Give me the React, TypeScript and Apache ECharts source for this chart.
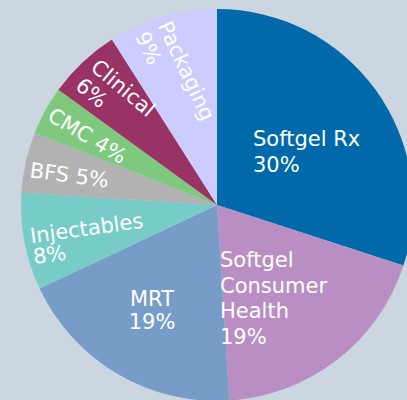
import React, { useEffect, useRef } from "react";
import * as echarts from "echarts";

const categories = [
  "Softgel Rx",
  "Softgel Consumer Health",
  "MRT",
  "Injectables",
  "BFS",
  "CMC",
  "Clinical",
  "Packaging",
];
const shares = [30, 19, 19, 8, 5, 4, 6, 9];
const labelTexts = [
  "Softgel Rx\n{d}%",
  "Softgel\nConsumer\nHealth\n{d}%",
  "MRT\n{d}%",
  "Injectables\n{d}%",
  "BFS {d}%",
  "CMC {d}%",
  "Clinical\n{d}%",
  "Packaging\n{d}%",
];
const colors = [
  "#0069aa",
  "#b98fc3",
  "#779cc8",
  "#77ccc8",
  "#b2b2b2",
  "#7fc97f",
  "#993366",
  "#ccccff",
];

// label placement (top-left of text block, rotation in degrees, ccw positive)
const placements = [
  { x: 253, y: 126, rotate: 0, align: "left", lh: 26 },
  { x: 220, y: 247.5, rotate: 0, align: "left", lh: 25.5 },
  { x: 152, y: 287, rotate: 0, align: "center", lh: 23.5 },
  { x: 28.8, y: 226, rotate: 8, align: "left", lh: 21 },
  { x: 31.5, y: 158.3, rotate: -7.6, align: "left", lh: 24 },
  { x: 56, y: 103.2, rotate: -31, align: "left", lh: 24 },
  { x: 101.8, y: 54.7, rotate: -40, align: "left", lh: 24 },
  { x: 175.1, y: 17.3, rotate: -65, align: "left", lh: 25 },
];

export default function App() {
  const ref = useRef<HTMLDivElement>(null);
  useEffect(() => {
    if (!ref.current) return;
    const chart = echarts.init(ref.current, undefined, { renderer: "svg" });
    chart.setOption({
      animation: false,
      backgroundColor: "#ccd6e1",
      series: [
        {
          type: "pie",
          center: [217, 205],
          radius: 196,
          startAngle: 90,
          clockwise: true,
          avoidLabelOverlap: false,
          itemStyle: { borderWidth: 0 },
          emphasis: { disabled: true },
          label: {
            show: true,
            position: "inside",
            color: "#ffffff",
            fontFamily: "DejaVu Sans",
            fontSize: 21,
            fontWeight: "normal",
          },
          labelLine: { show: false },
          labelLayout: (params: any) => {
            const p = placements[params.dataIndex];
            return {
              x: p.x,
              y: p.y,
              rotate: p.rotate,
              align: p.align,
              verticalAlign: "top",
            };
          },
          data: categories.map((name, i) => ({
            name,
            value: shares[i],
            itemStyle: { color: colors[i] },
            label: {
              formatter: labelTexts[i],
              lineHeight: placements[i].lh,
              align: placements[i].align,
            },
          })),
        },
      ],
    });
    return () => chart.dispose();
  }, []);
  return (
    <div
      ref={ref}
      style={{ position: "absolute", left: 0, top: 0, width: 407, height: 400 }}
    />
  );
}
